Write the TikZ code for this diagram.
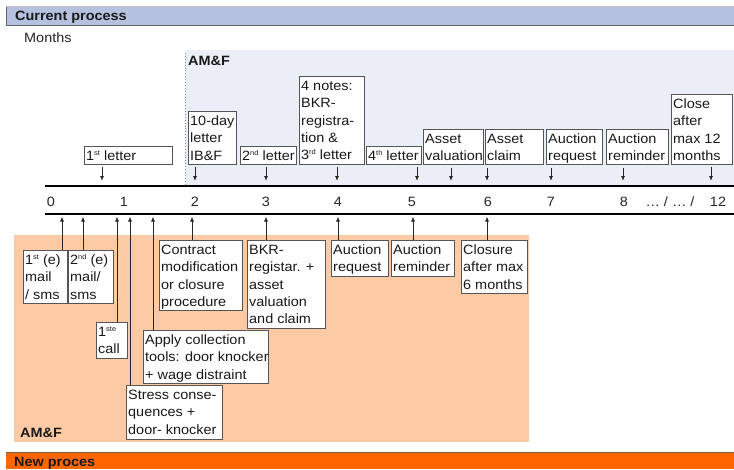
\documentclass[tikz,border=0pt]{standalone}
\usepackage{fontspec}
\setmainfont{Liberation Sans}[FakeStretch=1.07]
\usetikzlibrary{arrows.meta}
\definecolor{hdrblue}{HTML}{B4C1DF}
\definecolor{hdrline}{HTML}{5E6470}
\definecolor{regblue}{HTML}{EAEEF6}
\definecolor{peach}{HTML}{FCCBA6}
\definecolor{orng}{HTML}{FF6600}
\definecolor{orngline}{HTML}{7D5F3C}
\definecolor{boxline}{HTML}{555555}
\definecolor{dotblue}{HTML}{7C88B8}
\newcommand\tbox[6]{%
  \node[bx, minimum width=#4pt, minimum height=#5pt, anchor=north west] (#1) at (#2,#3) {};
  \node[tx, anchor=north west] (#1t) at ([xshift=2pt]#1.north west) {\rule{0pt}{14.2pt}#6};
}
\newcommand\sups[1]{\raisebox{4.8pt}{\fontsize{7}{7}\selectfont #1}}
\begin{document}
\begin{tikzpicture}[x=1pt,y=-1pt,
  bx/.style={draw=boxline, line width=0.8pt, fill=white, inner sep=0pt},
  tx/.style={inner sep=0pt, align=left, font=\fontsize{13.5}{17.3}\selectfont, text=black!90},
  lbl/.style={inner sep=0pt, font=\fontsize{13.5}{17.3}\selectfont, text=black!85},
  hdr/.style={inner sep=0pt, font=\bfseries\fontsize{13.5}{17.3}\selectfont, text=black!90},
  arr/.style={line width=0.9pt, draw=black!85, -{Latex[length=5pt,width=4pt]}},
  axisline/.style={line width=2.6pt, draw=black}]
\useasboundingbox (0,0) rectangle (734,469);
% backgrounds
\fill[white] (0,0) rectangle (734,469);
\fill[hdrblue] (6,6) rectangle (734,25);
\draw[hdrline, line width=1pt] (6,6) -- (6,25) -- (734,25);
\draw[black!25, line width=0.6pt] (6,6) -- (734,6);
\fill[regblue] (185,50) rectangle (734,186);
\fill[peach] (14,235) rectangle (529,442);
\fill[orng] (6,452) rectangle (734,469);
\draw[orngline, line width=1pt] (6,452) -- (734,452);
\draw[dotblue, dotted, line width=0.9pt] (185,53) -- (185,186);
% labels
\node[hdr, anchor=base west] (hcur) at (15,20) {Current process};
\node[lbl, anchor=base west] (months) at (24,42.7) {Months};
\node[hdr, anchor=base west] (amfTop) at (188,65) {AM\&F};
\node[hdr, anchor=base west] (amfBot) at (20,437) {AM\&F};
\node[hdr, anchor=base west] (hnew) at (14,466) {New proces};
% axis
\coordinate (axTL) at (45,186);
\coordinate (axTR) at (734,186);
\coordinate (axBL) at (45,214);
\coordinate (axBR) at (734,214);
\draw[axisline] (axTL) -- (axTR);
\draw[axisline] (axBL) -- (axBR);
\foreach \nm/\x/\t in {n0/51/0, n1/124/1, n2/195/2, n3/266/3, n4/338/4, n5/412/5, n6/488/6, n7/551/7, n8/624/8, ndots/670/{… / … /}, n12/718/12}
  \node[lbl, anchor=base] (\nm) at (\x,206) {\t};
% top boxes
\tbox{L1}{84}{146}{88}{18}{1\sups{st} letter}
\tbox{L10}{188}{111}{48}{53}{10-day\\letter\\IB\&F}
\tbox{L2}{240}{146}{56}{18}{2\sups{nd} letter}
\tbox{N4}{299}{76}{65}{88}{4 notes:\\BKR-\\registra-\\tion \&\\3\sups{rd} letter}
\tbox{L4}{366}{146}{55}{18}{4\sups{th} letter}
\tbox{AV}{423}{129}{60}{35.3}{Asset\\valuation}
\tbox{AC}{485}{129}{58}{35.3}{Asset\\claim}
\tbox{AR}{546}{129}{56}{35.3}{Auction\\request}
\tbox{ARm}{606}{129}{62}{35.3}{Auction\\reminder}
\tbox{CL}{671}{94}{61}{70}{Close\\after\\max 12\\months}
\foreach \nm/\x in {L1/102, L10/195, L2/266, N4/337, L4/417, AV/451, AC/487, AR/551, ARm/623, CL/711} {
  \coordinate (t\nm) at (\x,181);
  \draw[arr, shorten <=2.5pt] (\nm.south -| t\nm) -- (t\nm);
}
% bottom boxes
\tbox{M1}{23}{250}{44}{52.6}{1\sups{st} (e)\\mail\\/ sms}
\tbox{M2}{68}{250}{45}{52.6}{2\sups{nd} (e)\\mail/\\sms}
\tbox{C1}{96}{322}{31}{36}{1\sups{ste}\\call}
\tbox{AP}{143}{330}{125}{53}{Apply collection\\tools: door knocker\\+ wage distraint}
\tbox{ST}{126}{385}{96}{54}{Stress conse-\\quences +\\door- knocker}
\tbox{CM}{159}{240}{83}{70}{Contract\\modification\\or closure\\procedure}
\tbox{BK}{247}{240}{78}{88}{BKR-\\registar. +\\asset\\valuation\\and claim}
\tbox{AQ}{331}{240}{57}{36}{Auction\\request}
\tbox{AM}{391}{240}{63}{36}{Auction\\reminder}
\tbox{CS}{461}{240}{66}{53}{Closure\\after max\\6 months}
\foreach \nm/\x in {M1/62, M2/83, C1/117, ST/130, AP/153, CM/192, BK/266, AQ/338, AM/413, CS/487} {
  \coordinate (b\nm) at (\x,216.5);
  \draw[arr] (\nm.north -| b\nm) -- (b\nm);
}
\end{tikzpicture}
\end{document}
